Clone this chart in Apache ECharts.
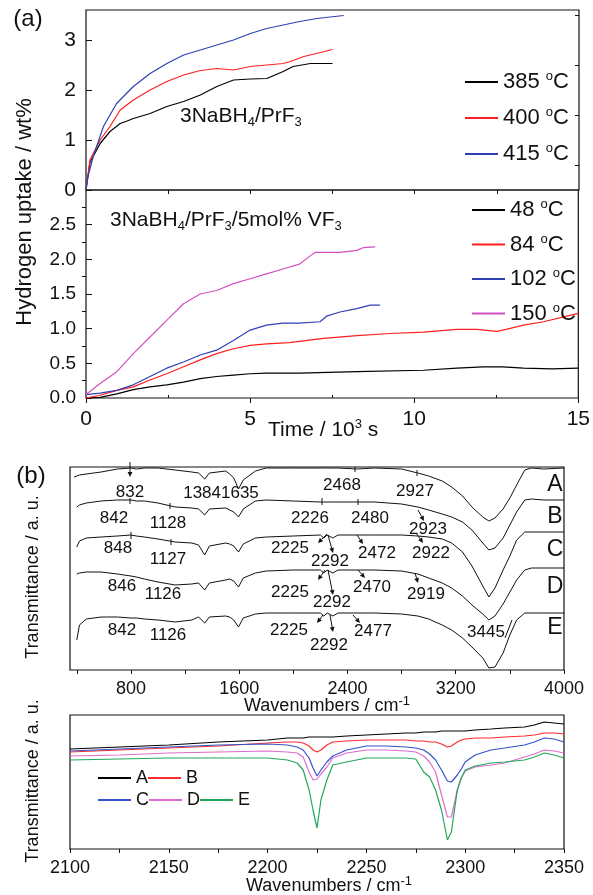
<!DOCTYPE html>
<html><head><meta charset="utf-8">
<script src="https://cdn.jsdelivr.net/npm/echarts@6/dist/echarts.min.js"></script>
<style>html,body{margin:0;padding:0;background:#fff}#c{width:593px;height:895px}</style>
</head><body><div id="c"></div>
<script>
// ---------- Panel (a) top: 3NaBH4/PrF3 ----------
const t385 = [0, 0.12, 0.43, 0.73, 1.04, 1.25, 1.44, 1.95, 2.46, 2.97, 3.48, 3.98, 4.49, 5.0, 5.5, 6.0, 6.3, 6.83, 7.5];
const v385 = [0, 0.55, 0.93, 1.17, 1.33, 1.38, 1.43, 1.53, 1.67, 1.77, 1.9, 2.07, 2.2, 2.22, 2.23, 2.37, 2.47, 2.53, 2.53];
const t400 = [0, 0.12, 0.43, 0.73, 1.04, 1.44, 1.95, 2.46, 2.97, 3.48, 3.98, 4.49, 5.0, 5.5, 6.0, 6.22, 6.63, 7.13, 7.5];
const v400 = [0, 0.6, 1.0, 1.27, 1.6, 1.8, 2.0, 2.17, 2.3, 2.39, 2.43, 2.4, 2.47, 2.5, 2.53, 2.57, 2.67, 2.75, 2.81];
const t415 = [0, 0.05, 0.22, 0.53, 0.93, 1.44, 1.95, 2.46, 2.97, 3.48, 3.98, 4.49, 5.0, 5.5, 6.0, 6.5, 7.03, 7.84];
const v415 = [0, 0.25, 0.67, 1.27, 1.73, 2.07, 2.33, 2.53, 2.7, 2.8, 2.9, 3.0, 3.13, 3.23, 3.3, 3.37, 3.43, 3.49];
// ---------- Panel (a) bottom: 3NaBH4/PrF3/5mol% VF3 ----------
const t48 = [0, 0.43, 0.94, 1.44, 1.95, 2.46, 2.97, 3.48, 3.98, 4.49, 5.0, 5.5, 6.5, 8.25, 10.28, 11.3, 12.1, 12.7, 13.33, 14.2, 15.0];
const v48 = [0, 0.01, 0.06, 0.12, 0.16, 0.19, 0.23, 0.28, 0.31, 0.33, 0.35, 0.36, 0.36, 0.38, 0.40, 0.43, 0.45, 0.45, 0.43, 0.42, 0.43];
const t84 = [0, 0.43, 0.94, 1.44, 1.95, 2.46, 2.97, 3.48, 3.98, 4.49, 5.0, 5.5, 6.2, 7.24, 8.25, 9.27, 10.28, 11.3, 11.9, 12.52, 12.8, 13.33, 13.94, 14.65, 15.0];
const v84 = [0, 0.04, 0.11, 0.16, 0.26, 0.35, 0.45, 0.55, 0.64, 0.71, 0.76, 0.78, 0.8, 0.86, 0.9, 0.93, 0.95, 0.99, 0.99, 0.96, 0.99, 1.05, 1.1, 1.18, 1.22];
const t102 = [0, 0.43, 0.94, 1.44, 1.95, 2.46, 2.97, 3.48, 3.98, 4.49, 5.0, 5.5, 6.0, 6.5, 7.13, 7.33, 7.74, 8.25, 8.66, 8.96];
const v102 = [0.05, 0.07, 0.11, 0.19, 0.31, 0.43, 0.52, 0.62, 0.69, 0.83, 0.98, 1.05, 1.08, 1.08, 1.1, 1.18, 1.24, 1.29, 1.34, 1.34];
const t150 = [0, 0.43, 0.94, 1.44, 1.95, 2.46, 2.97, 3.48, 3.98, 4.49, 5.0, 5.5, 6.0, 6.5, 6.83, 6.98, 7.74, 8.25, 8.46, 8.81];
const v150 = [0.05, 0.21, 0.38, 0.64, 0.88, 1.12, 1.36, 1.5, 1.55, 1.65, 1.72, 1.79, 1.86, 1.93, 2.05, 2.1, 2.1, 2.13, 2.17, 2.18];
const namesTop = ['385 °C', '400 °C', '415 °C'];
const namesBot = ['48 °C', '84 °C', '102 °C', '150 °C'];
const yTicksTop = [0, 1, 2, 3];
const yTicksBot = [0, 0.5, 1.0, 1.5, 2.0, 2.5];
const xTicksA = [0, 5, 10, 15];
// ---------- Panel (b) top: IR spectra (arbitrary transmittance units) ----------
const irWave = [380, 400, 420, 470, 580, 700, 800, 840, 900, 1000, 1127, 1250, 1300, 1345, 1380, 1500, 1530, 1560, 1595, 1630, 1720, 1800, 2000, 2200, 2225, 2250, 2292, 2330, 2470, 2600, 2800, 2920, 3000, 3100, 3170, 3250, 3320, 3400, 3445, 3490, 3550, 3600, 3650, 3710, 3760, 3850, 4000];
const irA = [193, 194, 195, 196, 198, 201, 202, 201, 202, 202, 200, 198, 197, 191, 197, 199, 196, 192, 181, 190, 199, 202, 202, 202, 202, 202, 202, 202, 201, 202, 201, 197, 194, 189, 183, 174, 163, 153, 149, 152, 161, 172, 185, 200, 202, 201, 202];
const irB = [null, 163, 165, 167, 169, 170, 170, 169, 169, 167, 163, 162, 161, 155, 161, 162, 160, 158, 153, 161, 169, 170, 169, 168, 168, 168, 168, 168, 168, 168, 166, 163, 160, 156, 153, 148, 140, 127, 120, 122, 132, 145, 158, 170, 171, 170, 170];
const irC = [null, 123, 129, 132, 133, 134, 135, 134, 133, 131, 128, 127, 125, 115, 124, 127, 126, 124, 118, 126, 132, 133, 134, 135, 132, 135, 132, 135, 135, 135, 135, 134, 133, 131, 127, 118, 104, 84, 73, 82, 100, 114, 130, 138, 138, 138, 138];
const irD = [null, 96, 97, 98, 98, 96, 94, 93, 91, 88, 85, 86, 87, 80, 87, 90, 91, 89, 83, 92, 97, 99, 100, 100, 97, 100, 97, 100, 100, 100, 99, 96, 92, 87, 82, 74, 65, 56, 50, 54, 66, 78, 90, 100, 102, 102, 102];
const irE = [null, 30, 45, 51, 53, 53, 52, 52, 51, 50, 48, 50, 53, 47, 53, 54, 53, 50, 43, 52, 56, 57, 57, 57, 54, 57, 54, 57, 57, 57, 56, 54, 51, 45, 40, 32, 23, 12, 2, 3, 17, 35, 50, 57, 57, 57, 57];
const irTicks = [400, 800, 1200, 1600, 2000, 2400, 2800, 3200, 3600, 4000];
const irLabels = [800, 1600, 2400, 3200, 4000];
// ---------- Panel (b) bottom: 2100-2350 cm-1 detail ----------
const zWave = [2100, 2125, 2150, 2175, 2200, 2210, 2215, 2218, 2221, 2223, 2225, 2227, 2230, 2233, 2240, 2250, 2260, 2270, 2275, 2279, 2282, 2285, 2288, 2291, 2293, 2296, 2298, 2300, 2305, 2313, 2320, 2330, 2335, 2340, 2345, 2350];
const zA = [100, 102, 104, 107, 109, 111, 111, 111, 112, 112, 112, 112, 112, 112, 113, 114, 115, 116, 116, 117, 117, 117, 118, 118, 118, 118, 118, 118, 119, 120, 121, 122, 124, 127, 126, 125];
const zB = [97, 99, 101, 103, 106, 107, 107, 106, 103, 99, 97, 99, 104, 107, 108, 109, 109, 109, 108, 108, 107, 107, 105, 102, 103, 107, 109, 110, 111, 111, 112, 113, 114, 116, 116, 115];
const zC = [98, 100, 102, 104, 105, 104, 102, 99, 91, 81, 73, 79, 87, 93, 99, 103, 103, 102, 101, 99, 95, 89, 79, 68, 67, 74, 80, 87, 94, 99, 101, 104, 107, 111, 110, 107];
const zD = [93, 94, 96, 97, 98, 97, 96, 92, 77, 69, 70, 75, 82, 91, 96, 99, 99, 98, 97, 93, 87, 77, 54, 32, 32, 59, 71, 78, 82, 84, 86, 92, 95, 99, 98, 96];
const zE = [89, 90, 91, 91, 91, 89, 86, 79, 59, 39, 21, 49, 69, 84, 87, 91, 91, 91, 90, 77, 72, 59, 39, 9, 17, 59, 71, 79, 83, 86, 87, 89, 92, 96, 94, 91];
const zTicks = [2100, 2125, 2150, 2175, 2200, 2225, 2250, 2275, 2300, 2325, 2350];
const zLabels = [2100, 2150, 2200, 2250, 2300, 2350];
const specNames = ['A', 'B', 'C', 'D', 'E'];

const FONT = 'Liberation Sans, Arial, Helvetica, sans-serif';
const zip = (xs, ys) => xs.map((x, i) => [x, ys[i]]);
const cA = {black: '#000000', red: '#ff1f1f', blue: '#2f40b4', pink: '#d350c3'};
const cB = {A: '#000000', B: '#ff2b2b', C: '#3553c9', D: '#df6ccb', E: '#22a85a'};

function lineSeries(name, data, color, xi, yi, w) {
  return {type: 'line', name, data, xAxisIndex: xi, yAxisIndex: yi, showSymbol: false, symbol: 'none',
    lineStyle: {color, width: w}, itemStyle: {color}, connectNulls: false, animation: false, z: 3};
}
const hid = {show: false};
function valAxis(o) {
  return Object.assign({type: 'value', splitLine: hid, axisLine: hid, axisLabel: hid, axisTick: hid, minorTick: hid}, o);
}
const plain = v => String(v);
const lab = (size, extra) => Object.assign({show: true, fontSize: size, fontFamily: FONT, color: '#111', formatter: plain}, extra || {});

const supRich = {s: {fontSize: 13, fontFamily: FONT, verticalAlign: 'top', lineHeight: 12, color: '#111'}};
const subRich = {b: {fontSize: 13, fontFamily: FONT, verticalAlign: 'bottom', lineHeight: 12, color: '#111'}};

function txt(x, y, text, size, opts) {
  opts = opts || {};
  return {type: 'text', x, y, rotation: opts.rot || 0, z: 10,
    style: {text, fontSize: size, fontFamily: FONT, fill: '#111',
      textAlign: opts.align || 'center', align: opts.align || 'center',
      textVerticalAlign: 'middle', verticalAlign: 'middle',
      lineHeight: opts.lh || size + 4, rich: opts.rich}};
}
function seg(x1, y1, x2, y2) {
  return {type: 'line', z: 10, shape: {x1, y1, x2, y2}, style: {stroke: '#111', lineWidth: 1}};
}
function arrow(x1, y1, x2, y2) {
  const a = Math.atan2(y2 - y1, x2 - x1), L = 5, W = 2.4;
  const bx = x2 - L * Math.cos(a), by = y2 - L * Math.sin(a);
  const px = -Math.sin(a) * W, py = Math.cos(a) * W;
  return [seg(x1, y1, bx, by),
    {type: 'polygon', z: 10, shape: {points: [[x2, y2], [bx + px, by + py], [bx - px, by - py]]}, style: {fill: '#111'}}];
}

const G = [
  {left: 86, top: 10, width: 493, height: 180},
  {left: 86, top: 190, width: 493, height: 208},
  {left: 70, top: 467, width: 494, height: 203},
  {left: 70, top: 715, width: 494, height: 134}
].map(g => Object.assign({show: true, borderColor: '#111', borderWidth: 1.2, backgroundColor: 'transparent'}, g));

const xAxis = [
  valAxis({gridIndex: 0, min: 0, max: 15, axisTick: {show: true, inside: false, length: 4, lineStyle: {color: '#111'}, customValues: [2.5, 5, 7.5, 10, 12.5]}}),
  valAxis({gridIndex: 1, min: 0, max: 15, axisTick: {show: true, inside: false, length: 5, lineStyle: {color: '#111'}, customValues: xTicksA},
    axisLabel: lab(21, {margin: 11, customValues: xTicksA})}),
  valAxis({gridIndex: 1, min: 0, max: 15, axisTick: {show: true, inside: false, length: 3, lineStyle: {color: '#111'}, customValues: [2.5, 7.5, 12.5]}}),
  valAxis({gridIndex: 2, min: 350, max: 4000, axisTick: {show: true, inside: false, length: 4, lineStyle: {color: '#111'}, customValues: irTicks},
    axisLabel: lab(18, {margin: 10, customValues: irLabels})}),
  valAxis({gridIndex: 3, min: 2100, max: 2350, axisTick: {show: true, inside: false, length: 4, lineStyle: {color: '#111'}, customValues: zTicks},
    axisLabel: lab(18, {margin: 10, customValues: zLabels})})
];
const yAxis = [
  valAxis({gridIndex: 0, min: 0, max: 3.6, axisTick: {show: true, inside: true, length: 6, lineStyle: {color: '#111'}, customValues: yTicksTop},
    axisLabel: lab(21, {margin: 10, customValues: yTicksTop})}),
  valAxis({gridIndex: 0, min: 0, max: 3.6, axisTick: {show: true, inside: true, length: 4, lineStyle: {color: '#111'}, customValues: [0.5, 1.5, 2.5, 3.5]}}),
  valAxis({gridIndex: 1, min: 0, max: 3, axisTick: {show: true, inside: true, length: 6, lineStyle: {color: '#111'}, customValues: yTicksBot},
    axisLabel: lab(19, {margin: 10, customValues: yTicksBot, formatter: v => v.toFixed(1)})}),
  valAxis({gridIndex: 1, min: 0, max: 3, axisTick: {show: true, inside: true, length: 4, lineStyle: {color: '#111'}, customValues: [0.25, 0.75, 1.25, 1.75, 2.25, 2.75]}}),
  valAxis({gridIndex: 2, min: 0, max: 203}),
  valAxis({gridIndex: 3, min: 0, max: 134})
];

const series = [
  lineSeries(namesTop[0], zip(t385, v385), cA.black, 0, 0, 1.2),
  lineSeries(namesTop[1], zip(t400, v400), cA.red, 0, 0, 1.2),
  lineSeries(namesTop[2], zip(t415, v415), cA.blue, 0, 0, 1.2),
  lineSeries(namesBot[0], zip(t48, v48), cA.black, 1, 2, 1.2),
  lineSeries(namesBot[1], zip(t84, v84), cA.red, 1, 2, 1.2),
  lineSeries(namesBot[2], zip(t102, v102), cA.blue, 1, 2, 1.2),
  lineSeries(namesBot[3], zip(t150, v150), cA.pink, 1, 2, 1.2),
  lineSeries('IR A', zip(irWave, irA), '#111', 3, 4, 1),
  lineSeries('IR B', zip(irWave, irB), '#111', 3, 4, 1),
  lineSeries('IR C', zip(irWave, irC), '#111', 3, 4, 1),
  lineSeries('IR D', zip(irWave, irD), '#111', 3, 4, 1),
  lineSeries('IR E', zip(irWave, irE), '#111', 3, 4, 1),
  lineSeries('A', zip(zWave, zA), cB.A, 4, 5, 1.2),
  lineSeries('B', zip(zWave, zB), cB.B, 4, 5, 1.2),
  lineSeries('C', zip(zWave, zC), cB.C, 4, 5, 1.2),
  lineSeries('D', zip(zWave, zD), cB.D, 4, 5, 1.2),
  lineSeries('E', zip(zWave, zE), cB.E, 4, 5, 1.2)
];

const degFmt = n => n.replace(' °C', ' {s|o}C');
function legendBlock(data, left, top, gap, fontSize) {
  return {data, left, top, orient: 'vertical', itemWidth: 33, itemHeight: 2, icon: 'rect', itemGap: gap,
    formatter: degFmt, selectedMode: false,
    textStyle: {fontSize, fontFamily: FONT, color: '#111', lineHeight: 24,
      rich: {s: {fontSize: 13, fontFamily: FONT, verticalAlign: 'top', lineHeight: 13, color: '#111'}}}};
}
function legendRow(data, left, top) {
  return {data, left, top, orient: 'horizontal', itemWidth: 33, itemHeight: 2, icon: 'rect', itemGap: 0,
    selectedMode: false, textStyle: {fontSize: 18, fontFamily: FONT, color: '#111', lineHeight: 20}};
}
const legend = [
  legendBlock(namesTop, 460, 65, 12, 22),
  legendBlock(namesBot, 467, 193, 10.5, 22),
  legendRow(['A', 'B'], 93, 763),
  legendRow(['C', 'D', 'E'], 93, 785)
];

let graphic = [
  txt(28, 19, '(a)', 24),
  txt(31, 476, '(b)', 24),
  txt(25, 212, 'Hydrogen uptake / wt%', 22, {rot: Math.PI / 2}),
  txt(268, 430, 'Time / 10{s|3} s', 21, {align: 'left', rich: supRich, lh: 24}),
  txt(180, 116, '3NaBH{b|4}/PrF{b|3}', 21, {align: 'left', rich: subRich, lh: 26}),
  txt(110, 220, '3NaBH{b|4}/PrF{b|3}/5mol% VF{b|3}', 21, {align: 'left', rich: subRich, lh: 26}),
  txt(33, 577, 'Transmittance / a. u.', 18, {rot: Math.PI / 2}),
  txt(33, 781, 'Transmittance / a. u.', 18, {rot: Math.PI / 2}),
  txt(327, 706, 'Wavenumbers / cm{s|-1}', 18, {rich: supRich, lh: 22}),
  txt(329, 886, 'Wavenumbers / cm{s|-1}', 18, {rich: supRich, lh: 22}),
  txt(555, 485, 'A', 23), txt(555, 517, 'B', 23), txt(555, 550, 'C', 23), txt(555, 587, 'D', 23), txt(555, 628, 'E', 23),
  txt(130, 492, '832', 17), txt(221, 493, '13841635', 17), txt(342, 485, '2468', 17), txt(415, 491, '2927', 17),
  txt(114, 518, '842', 17), txt(168, 523, '1128', 17), txt(310, 518, '2226', 17), txt(370, 518, '2480', 17), txt(428, 529, '2923', 17),
  txt(118, 548, '848', 17), txt(168, 559, '1127', 17), txt(290, 548, '2225', 17), txt(330, 561, '2292', 17), txt(377, 553, '2472', 17), txt(431, 553, '2922', 17),
  txt(122, 586, '846', 17), txt(163, 594, '1126', 17), txt(290, 592, '2225', 17), txt(332, 602, '2292', 17), txt(372, 587, '2470', 17), txt(426, 594, '2919', 17),
  txt(122, 630, '842', 17), txt(168, 635, '1126', 17), txt(289, 630, '2225', 17), txt(329, 645, '2292', 17), txt(373, 631, '2477', 17), txt(486, 632, '3445', 17),
  seg(355, 467, 355, 472), seg(417, 470, 417, 476),
  seg(130, 498, 130, 504), seg(170, 503, 170, 509), seg(322, 498, 322, 505), seg(358, 499, 358, 505),
  seg(131, 532, 131, 539), seg(171, 539, 171, 545),
  seg(505, 638, 512, 620)
];
graphic = graphic.concat(
  arrow(130, 462, 130, 477),
  arrow(418, 510, 424, 521),
  arrow(327, 534, 318, 543), arrow(328, 535, 333, 553), arrow(357, 535, 363, 544), arrow(416, 533, 423, 543),
  arrow(325, 570, 318, 580), arrow(328, 570, 333, 595), arrow(358, 570, 365, 578), arrow(415, 573, 418, 583),
  arrow(323, 615, 317, 623), arrow(330, 615, 333, 632), arrow(353, 615, 360, 623)
);

const chart = echarts.init(document.getElementById('c'), null, {renderer: 'canvas'});
chart.setOption({
  animation: false,
  backgroundColor: '#fff',
  grid: G, xAxis, yAxis, series, legend, graphic,
  textStyle: {fontFamily: FONT}
});
</script></body></html>
